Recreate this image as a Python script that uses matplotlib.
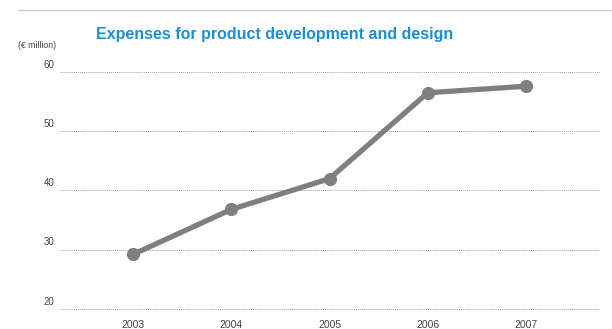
import matplotlib.pyplot as plt
from matplotlib.lines import Line2D
from matplotlib import font_manager

# --- Data ----------------------------------------------------------------
years = [2003, 2004, 2005, 2006, 2007]
expenses = [29.2, 36.8, 42.0, 56.5, 57.6]
y_ticks = [20, 30, 40, 50, 60]

names = {f.name for f in font_manager.fontManager.ttflist}
narrow = "Liberation Sans Narrow" in names

W, H = 612, 329
fig = plt.figure(figsize=(W / 100, H / 100), dpi=100)
plt.rcParams["font.family"] = ["Liberation Sans", "DejaVu Sans"]

# axes box: gridlines span x 60..600, y 20 at 309, 60 at 72
ax = fig.add_axes([60 / W, 1 - 309 / H, 540 / W, (309 - 72) / H])
ax.set_xlim(2002.26, 2007.75)
ax.set_ylim(20, 60)

for v in y_ticks:
    ax.axhline(v, color="#a0a0a0", linestyle=(0, (1, 1)), linewidth=0.7,
               zorder=1, clip_on=False)

ax.plot(years, expenses, color="#7f7f7f", linewidth=3.8, marker="o",
        markersize=8.5, solid_capstyle="round", zorder=3, clip_on=False)

for s in ax.spines.values():
    s.set_visible(False)
ax.set_xticks(years)
ax.set_xticklabels([str(y) for y in years], fontsize=7.5, color="#444444")
ax.set_yticks([])
ax.tick_params(axis="x", length=0, pad=8)

for v in y_ticks:
    ax.text(2002.26 - 0.06, v + 0.4, str(v), ha="right", va="bottom",
            fontsize=7, color="#444444")

# top rule
fig.add_artist(Line2D([18 / W, 1], [1 - 10 / H, 1 - 10 / H], color="#cccccc",
                      linewidth=1.0))

fig.text(18 / W, 1 - 46 / H, "(€ million)", fontsize=6.3, color="#444444",
         ha="left", va="center")
title_kw = dict(fontsize=11.5, fontweight="bold", color="#1a8fd4",
                ha="center", va="center")
if narrow:
    title_kw.update(fontsize=13.5, family=["Liberation Sans Narrow", "DejaVu Sans"])
fig.text(275 / W, 1 - 35 / H, "Expenses for product development and design",
         **title_kw)

plt.savefig("out.png", dpi=100)
plt.close()
